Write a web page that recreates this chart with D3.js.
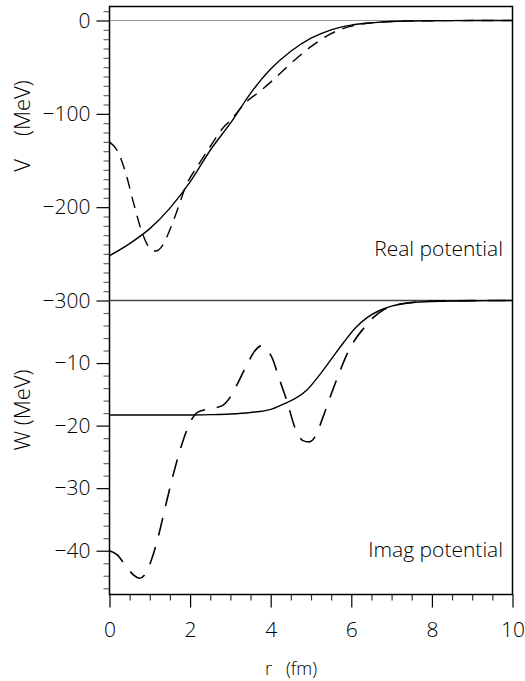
<!DOCTYPE html>
<html>
<head>
<meta charset="utf-8">
<script src="https://cdn.jsdelivr.net/npm/d3@7"></script>
<style>
  body { margin: 0; background: #fff; }
  svg text { font-family: "Open Sans", "Liberation Sans", sans-serif; font-weight: 300; fill: #000; }
</style>
</head>
<body>
<svg id="main" width="525" height="681"></svg>
<script>
// data (r in fm, potentials in MeV)
var realSolidR = [0, 0.5, 1, 1.5, 2, 2.5, 3, 3.5, 4, 4.5, 5, 5.5, 6, 6.5, 7, 7.5, 8, 9, 10];
var realSolidV = [-252, -239, -223, -201, -173, -139, -110, -78, -52, -33, -19, -10, -5, -2.5, -1, -0.5, -0.2, -0.05, 0];

var realDashR = [0, 0.2, 0.4, 0.6, 0.8, 1.0, 1.15, 1.3, 1.5, 1.7, 1.9, 2.2, 2.5, 2.8, 3.0, 3.4, 3.7, 4.0, 4.5, 5.0, 5.5, 6.0, 6.5, 7.0, 8.0, 10];
var realDashV = [-130, -140, -163, -196, -226, -244, -247, -242, -224, -201, -177, -155, -135, -116, -107, -87, -77, -66, -46, -28, -14, -6, -2.5, -1, -0.2, 0];

var imagSolidR = [0, 1, 2, 2.5, 3, 3.5, 4, 4.3, 4.6, 4.9, 5.2, 5.5, 5.8, 6.1, 6.4, 6.7, 7, 7.5, 8, 9, 10];
var imagSolidW = [-18.3, -18.3, -18.3, -18.25, -18.15, -17.9, -17.4, -16.6, -15.7, -14.3, -12, -9.4, -6.8, -4.4, -2.7, -1.6, -0.9, -0.35, -0.15, -0.03, 0];

var imagDashR = [0, 0.2, 0.4, 0.6, 0.75, 0.9, 1.05, 1.2, 1.4, 1.6, 1.8, 2.0, 2.2, 2.5, 2.8, 3.0, 3.2, 3.4, 3.6, 3.75, 3.9, 4.05, 4.2, 4.4, 4.6, 4.8, 4.95, 5.1, 5.3, 5.5, 5.7, 5.9, 6.1, 6.3, 6.55, 6.8, 7.2, 7.6, 8, 9, 10];
var imagDashW = [-40, -40.7, -42.4, -43.9, -44.4, -43.6, -41.3, -38, -32.6, -27.4, -22.9, -19.5, -17.8, -17.3, -16.8, -15.4, -13, -10.4, -8.1, -7.3, -7.8, -9.4, -12.3, -16, -20.3, -22.4, -22.6, -21.8, -18.6, -15, -11.6, -8.5, -6.2, -4.5, -2.7, -1.5, -0.6, -0.25, -0.1, -0.02, 0];

var xTicks = [0, 2, 4, 6, 8, 10];
var vTicks = [0, -100, -200, -300];
var wTicks = [-10, -20, -30, -40];

var svg = d3.select("#main");

var x = d3.scaleLinear().domain([0, 10]).range([109.5, 512.5]);
var yV = d3.scaleLinear().domain([-300, 15]).range([300.5, 6.5]);
var yW = d3.scaleLinear().domain([-47, 0]).range([594.5, 300.5]);

function zip(a, b) {
  return a.map(function(v, i) { return [v, b[i]]; });
}

// minor tick values
var vMinor = d3.range(-290, 15, 10).filter(function(v) { return v % 100 !== 0; });
var wMinor = d3.range(-46, 0, 2).filter(function(v) { return v % 10 !== 0; });
var xMinor = d3.range(0, 10.01, 0.5).filter(function(v) { return v % 2 !== 0; });

// left axes
svg.append("g")
  .attr("transform", "translate(109.5,0)")
  .call(d3.axisLeft(yV).tickValues(vMinor).tickSize(6).tickFormat(""))
  .call(cleanup, "#666");
svg.append("g")
  .attr("transform", "translate(109.5,0)")
  .call(d3.axisLeft(yV).tickValues(vTicks).tickSize(13).tickPadding(6))
  .call(cleanup, "#000");

svg.append("g")
  .attr("transform", "translate(109.5,0)")
  .call(d3.axisLeft(yW).tickValues(wMinor).tickSize(6).tickFormat(""))
  .call(cleanup, "#666");
svg.append("g")
  .attr("transform", "translate(109.5,0)")
  .call(d3.axisLeft(yW).tickValues(wTicks).tickSize(13).tickPadding(6))
  .call(cleanup, "#000");

// bottom axis
svg.append("g")
  .attr("transform", "translate(0,594.5)")
  .call(d3.axisBottom(x).tickValues(xMinor).tickSize(6).tickFormat(""))
  .call(cleanup, "#333");
svg.append("g")
  .attr("transform", "translate(0,594.5)")
  .call(d3.axisBottom(x).tickValues(xTicks).tickSize(13).tickPadding(15))
  .call(cleanup, "#000");

function cleanup(g, col) {
  g.select(".domain").remove();
  g.selectAll(".tick line").attr("stroke", col).attr("stroke-width", 1.2);
  g.selectAll(".tick text").attr("font-size", 21);
}

// V = 0 reference line
svg.append("line")
  .attr("x1", x(0)).attr("x2", x(10))
  .attr("y1", yV(0)).attr("y2", yV(0))
  .attr("stroke", "#999").attr("stroke-width", 1.2);

// frame and panel divider
svg.append("rect")
  .attr("x", x(0)).attr("y", yV(15))
  .attr("width", x(10) - x(0)).attr("height", yW(-47) - yV(15))
  .attr("fill", "none").attr("stroke", "#000").attr("stroke-width", 1.5);
svg.append("line")
  .attr("x1", x(0)).attr("x2", x(10))
  .attr("y1", yV(-300)).attr("y2", yV(-300))
  .attr("stroke", "#444").attr("stroke-width", 1.5);

// curves
var lineV = d3.line().x(function(d) { return x(d[0]); }).y(function(d) { return yV(d[1]); }).curve(d3.curveMonotoneX);
var lineW = d3.line().x(function(d) { return x(d[0]); }).y(function(d) { return yW(d[1]); }).curve(d3.curveMonotoneX);

svg.append("path").datum(zip(realSolidR, realSolidV))
  .attr("d", lineV).attr("fill", "none").attr("stroke", "#000").attr("stroke-width", 1.4);
svg.append("path").datum(zip(realDashR, realDashV))
  .attr("d", lineV).attr("fill", "none").attr("stroke", "#000").attr("stroke-width", 1.4)
  .attr("stroke-dasharray", "12,8");

svg.append("path").datum(zip(imagSolidR, imagSolidW))
  .attr("d", lineW).attr("fill", "none").attr("stroke", "#000").attr("stroke-width", 1.4);
svg.append("path").datum(zip(imagDashR, imagDashW))
  .attr("d", lineW).attr("fill", "none").attr("stroke", "#000").attr("stroke-width", 1.6)
  .attr("stroke-dasharray", "18,12");

// labels
svg.append("text")
  .attr("x", 503).attr("y", 256)
  .attr("text-anchor", "end").attr("font-size", 21)
  .text("Real potential");
svg.append("text")
  .attr("x", 503).attr("y", 557)
  .attr("text-anchor", "end").attr("font-size", 21)
  .text("Imag potential");

svg.append("text")
  .attr("transform", "translate(30,126) rotate(-90)")
  .attr("text-anchor", "middle").attr("font-size", 22)
  .attr("xml:space", "preserve")
  .text("V    (MeV)");
svg.append("text")
  .attr("transform", "translate(30,410) rotate(-90)")
  .attr("text-anchor", "middle").attr("font-size", 22)
  .text("W (MeV)");

svg.append("text")
  .attr("x", 291).attr("y", 675)
  .attr("text-anchor", "middle").attr("font-size", 18)
  .attr("xml:space", "preserve")
  .text("r   (fm)");
</script>
</body>
</html>
